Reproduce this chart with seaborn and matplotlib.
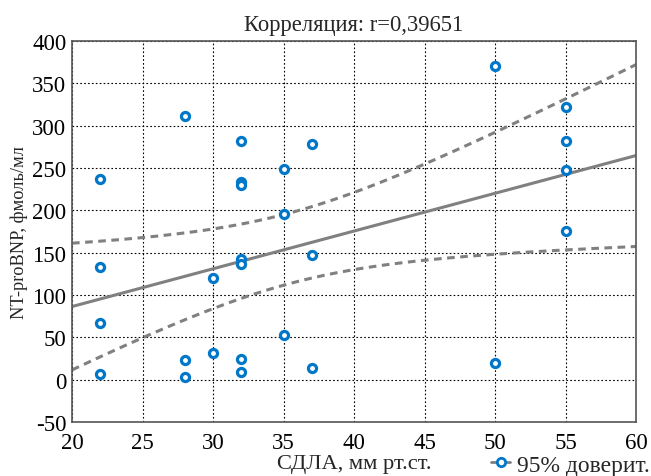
import numpy as np
import pandas as pd
import matplotlib
matplotlib.use("Agg")
import matplotlib.pyplot as plt
import seaborn as sns
from matplotlib.lines import Line2D

# Data
sdla = [22, 22, 22, 22, 28, 28, 28, 30, 30, 32, 32, 32, 32, 32, 32, 32,
        35, 35, 35, 37, 37, 37, 50, 50, 55, 55, 55, 55]
bnp = [237, 133, 67, 7, 311, 23, 3, 120, 32, 282, 233, 230, 142, 137, 24, 9,
       249, 196, 53, 278, 147, 14, 370, 20, 322, 282, 248, 175]

title_text = "Корреляция: r=0,39651"
xlabel_text = "СДЛА, мм рт.ст."
ylabel_text = "NT-proBNP, фмоль/мл"
legend_text = "95% доверит."
xticks = [20, 25, 30, 35, 40, 45, 50, 55, 60]
yticks = [-50, 0, 50, 100, 150, 200, 250, 300, 350, 400]

sns.set_theme(style="white")
plt.rcParams['font.family'] = ['Liberation Serif', 'DejaVu Serif']
plt.rcParams['axes.unicode_minus'] = False

df = pd.DataFrame({"x": sdla, "y": bnp})

# linear fit and 95% confidence band of the mean
x = np.asarray(sdla, float)
y = np.asarray(bnp, float)
n = len(x)
b, a = np.polyfit(x, y, 1)
resid = y - (a + b * x)
s = np.sqrt(np.sum(resid ** 2) / (n - 2))
sxx = np.sum((x - x.mean()) ** 2)
t_val = 2.056
xs = np.linspace(20, 60, 200)
yhat = a + b * xs
half = t_val * s * np.sqrt(1 / n + (xs - x.mean()) ** 2 / sxx)
fit = pd.DataFrame({"x": xs, "fit": yhat, "lo": yhat - half, "hi": yhat + half})

fig = plt.figure(figsize=(6.51, 4.77), dpi=100)
ax = fig.add_axes([0.1106, 0.1132, 0.8664, 0.7988])

gray = "#808080"
blue = "#0077C8"
sns.lineplot(data=fit, x="x", y="fit", ax=ax, color=gray, lw=2.2)
sns.lineplot(data=fit, x="x", y="lo", ax=ax, color=gray, lw=2.2)
sns.lineplot(data=fit, x="x", y="hi", ax=ax, color=gray, lw=2.2)
for l in ax.get_lines()[1:3]:
    l.set_linestyle((0, (2.5, 1.8)))
sns.scatterplot(data=df, x="x", y="y", ax=ax, marker="o", s=34,
                facecolor="white", edgecolor=blue, linewidth=2.3, zorder=5)

ax.set_xlim(20, 60)
ax.set_ylim(-50, 400)
ax.set_xticks(xticks)
ax.set_yticks(yticks)
ax.tick_params(length=0, labelsize=16.5, colors="black")
ax.tick_params(axis="x", pad=7)
ax.tick_params(axis="y", pad=4)
ax.grid(True, color="black", linestyle=(0, (1.5, 2)), linewidth=0.8)
for sp in ax.spines.values():
    sp.set_color("#555555")
    sp.set_linewidth(1.2)

ax.set_title(title_text, fontsize=16.3, pad=8)
ax.set_xlabel(xlabel_text, fontsize=16.2, labelpad=1)
ax.set_ylabel(ylabel_text, fontsize=13.2, labelpad=3)

handle = Line2D([0], [0], color=gray, lw=2, marker="o", markersize=6,
                markerfacecolor="white", markeredgecolor=blue, markeredgewidth=2)
fig.legend([handle], [legend_text], loc="lower right", bbox_to_anchor=(0.998, 0.001),
           frameon=False, fontsize=16.9, handlelength=0.8, handletextpad=0.3,
           borderpad=0.0, borderaxespad=0.0)

fig.savefig("out.png", dpi=100)
